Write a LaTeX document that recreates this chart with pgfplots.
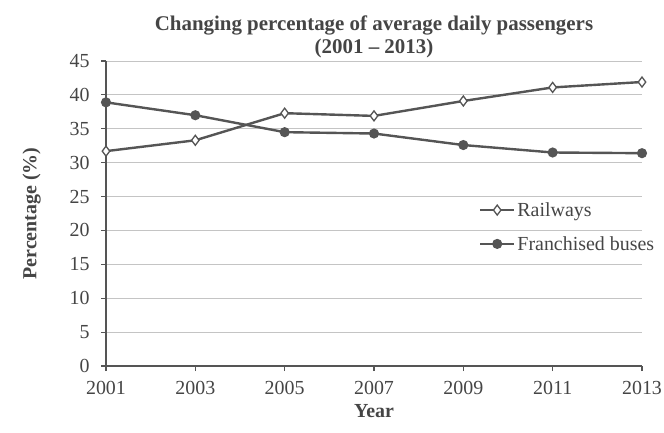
\documentclass[border=0pt]{standalone}
\usepackage{fontspec}
\setmainfont{Liberation Serif}
\usepackage{pgfplots}
\pgfplotsset{compat=1.18}
\definecolor{ln}{HTML}{555555}
\definecolor{tx}{HTML}{454545}
\definecolor{gr}{HTML}{C4C4C4}

\pgfplotstableread{
year railways buses
2001 31.7 38.9
2003 33.3 37.0
2005 37.3 34.5
2007 36.9 34.3
2009 39.1 32.6
2011 41.1 31.5
2013 41.9 31.4
}\passengers

\begin{document}
\begin{tikzpicture}
% fixed page: 664 x 433, axis box starts 106 from the left and 61 from the top
\path[use as bounding box] (-106bp,-67bp) rectangle (558bp,366bp);
\begin{axis}[
    at={(0,0)}, anchor=south west,
    scale only axis,
    width=536bp, height=305bp,
    xmin=2001, xmax=2013,
    ymin=0, ymax=45,
    xtick={2001,2003,...,2013},
    ytick={0,5,...,45},
    axis x line=bottom, axis y line=left,
    axis line style={-, ln, line width=1.2bp},
    ymajorgrids, grid style={gr, line width=0.9bp},
    tick style={ln, line width=1.2bp},
    tick align=outside, major tick length=5bp,
    /pgf/number format/.cd, 1000 sep={}, assume math mode=true, /pgfplots/.cd,
    tick label style={font=\fontsize{20}{22}\selectfont, text=tx},
    xticklabel style={yshift=-7bp},
    yticklabel style={xshift=-8bp},
    title={Changing percentage of average daily passengers\\(2001 -- 2013)},
    title style={align=center, font=\bfseries\fontsize{21}{23}\selectfont, text=tx, yshift=-6bp},
    xlabel={Year},
    ylabel={Percentage (\%)},
    label style={font=\bfseries\fontsize{20}{22}\selectfont, text=tx},
    xlabel style={yshift=-3bp},
    ylabel style={yshift=22bp},
    legend style={draw=none, fill=none, at={(0.69,0.55)}, anchor=north west,
        font=\fontsize{20}{22}\selectfont, text=tx, row sep=14.5bp},
    legend cell align=left,
    legend image code/.code={
        \draw[mark repeat=2, mark phase=2] plot coordinates {(0cm,0cm) (0.6cm,0cm) (1.2cm,0cm)};
    },
]
\addplot[ln, line width=2.4bp, mark=diamond*, mark size=5bp, mark options={fill=white, line width=1.3bp}]
    table[x=year, y=railways] {\passengers};
\addlegendentry{Railways}
\addplot[ln, line width=2.4bp, mark=*, mark size=3.8bp]
    table[x=year, y=buses] {\passengers};
\addlegendentry{Franchised buses}
\end{axis}
\end{tikzpicture}
\end{document}
